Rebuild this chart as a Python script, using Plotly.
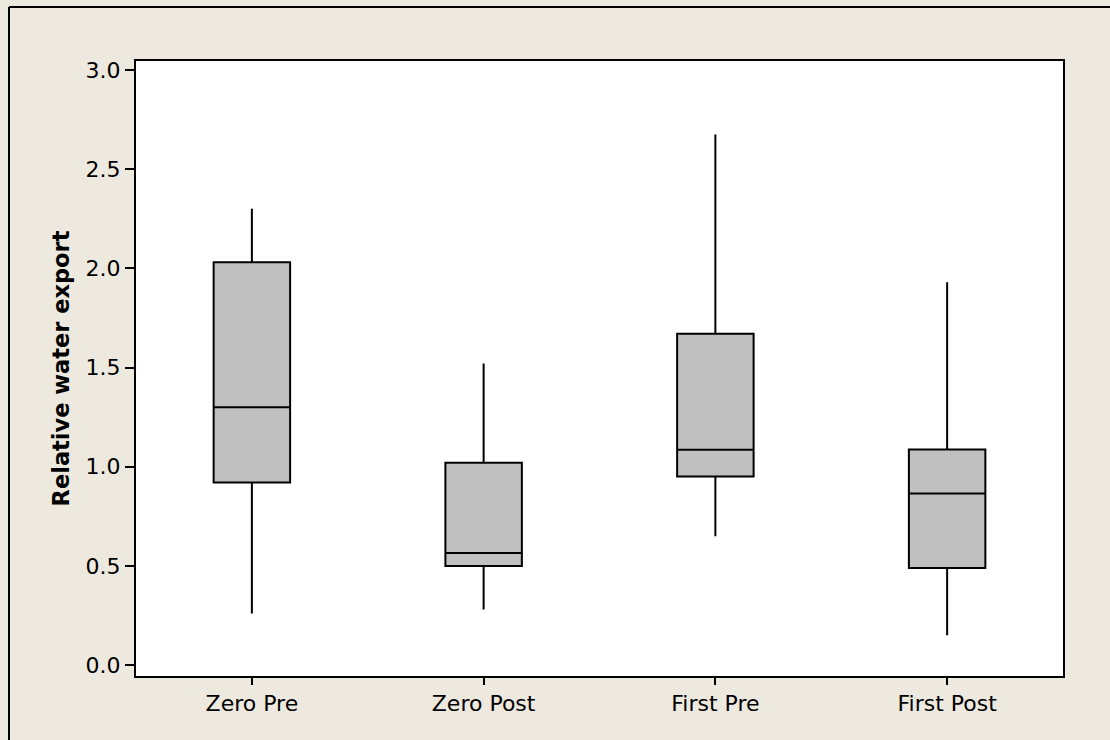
import plotly.graph_objects as go

categories = ["Zero Pre", "Zero Post", "First Pre", "First Post"]
lower_whisker = [0.26, 0.28, 0.65, 0.15]
q1_values = [0.92, 0.50, 0.95, 0.49]
median_values = [1.30, 0.565, 1.085, 0.865]
q3_values = [2.03, 1.02, 1.67, 1.087]
upper_whisker = [2.30, 1.52, 2.675, 1.93]
y_ticks = [0.0, 0.5, 1.0, 1.5, 2.0, 2.5, 3.0]
y_tick_labels = ["0.0", "0.5", "1.0", "1.5", "2.0", "2.5", "3.0"]

fig = go.Figure()
fig.add_trace(go.Box(
    x=categories,
    q1=q1_values,
    median=median_values,
    q3=q3_values,
    lowerfence=lower_whisker,
    upperfence=upper_whisker,
    fillcolor="#C0C0C0",
    line=dict(color="black", width=2),
    whiskerwidth=0,
    width=0.33,
    boxpoints=False,
    showlegend=False,
    hoverinfo="skip",
))

font_family = "DejaVu Sans, Verdana, sans-serif"

fig.update_layout(
    width=1110,
    height=740,
    paper_bgcolor="#EDE9DF",
    plot_bgcolor="white",
    margin=dict(l=136, r=47, t=61, b=64),
    font=dict(family=font_family, size=22, color="black"),
    xaxis=dict(
        type="category",
        range=[-0.5, 3.5],
        showline=True, mirror=True, linecolor="black", linewidth=2,
        ticks="outside", ticklen=7, tickcolor="black", tickwidth=1.5,
        showgrid=False, zeroline=False,
        tickfont=dict(size=22),
    ),
    yaxis=dict(
        range=[-0.055, 3.045],
        tickvals=y_ticks, ticktext=y_tick_labels,
        showline=True, mirror=True, linecolor="black", linewidth=2,
        ticks="outside", ticklen=9, tickcolor="black", tickwidth=1.5,
        showgrid=False, zeroline=False,
        tickfont=dict(size=22),
        title=dict(text="<b>Relative water export</b>", font=dict(size=22.5), standoff=10),
    ),
    shapes=[
        dict(type="line", xref="paper", yref="paper",
             x0=(9 - 136) / 927, x1=(1112 - 136) / 927,
             y0=(676 - 7) / 615, y1=(676 - 7) / 615,
             line=dict(color="black", width=2)),
        dict(type="line", xref="paper", yref="paper",
             x0=(9 - 136) / 927, x1=(9 - 136) / 927,
             y0=(676 - 7) / 615, y1=(676 - 745) / 615,
             line=dict(color="black", width=2)),
    ],
)

fig.write_html("out.html", config={"displayModeBar": False},
               post_script="document.body.style.margin='0';")
